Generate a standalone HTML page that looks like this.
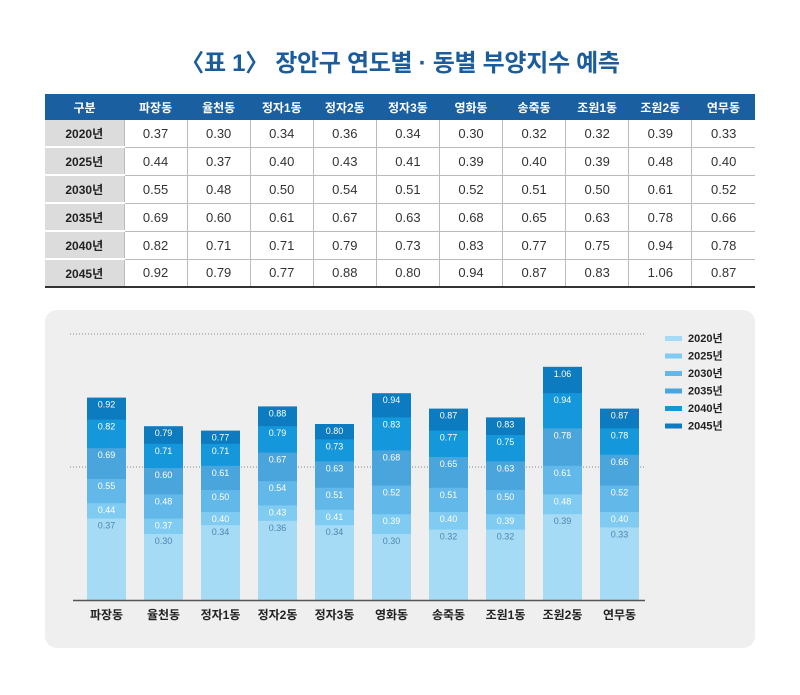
<!DOCTYPE html>
<html><head><meta charset="utf-8">
<style>
body{margin:0;background:#fff;width:800px;height:695px;overflow:hidden;font-family:"Liberation Sans","Noto Sans CJK KR",sans-serif;}
h1{position:absolute;left:0;top:43px;width:800px;text-align:center;margin:0;font-size:24px;font-weight:bold;color:#1b5c9c;letter-spacing:-0.3px;font-family:"Liberation Sans","Noto Sans CJK KR",sans-serif;}
table{position:absolute;left:45px;top:94px;width:710px;border-collapse:collapse;font-size:12px;table-layout:fixed;}
th{background:#1a5fa0;color:#fff;height:26px;font-weight:bold;font-size:12px;padding:0;}
td{height:26px;text-align:center;color:#333;border-right:1px solid #bbb;border-bottom:1px solid #bbb;padding:0;font-family:"Liberation Sans Narrow","Liberation Sans","Noto Sans CJK KR",sans-serif;font-size:13px;}
td:last-child{border-right:none;}
td.y{background:#dcdcdc;font-weight:bold;color:#222;font-family:"Liberation Sans","Noto Sans CJK KR",sans-serif;font-size:12px;border-bottom:2px solid #fff;}
tr:last-child td{border-bottom:2px solid #333;}
.panel{position:absolute;left:45px;top:310px;width:710px;height:338px;background:#efefef;border-radius:12px;}
svg{position:absolute;left:0;top:0;}
</style></head><body>
<h1>〈표 1〉 장안구 연도별 · 동별 부양지수 예측</h1>
<table>
<colgroup><col style="width:79px"><col span="10" style="width:63.1px"></colgroup>
<tr><th>구분</th><th>파장동</th><th>율천동</th><th>정자1동</th><th>정자2동</th><th>정자3동</th><th>영화동</th><th>송죽동</th><th>조원1동</th><th>조원2동</th><th>연무동</th></tr>
<tr><td class="y">2020년</td><td>0.37</td><td>0.30</td><td>0.34</td><td>0.36</td><td>0.34</td><td>0.30</td><td>0.32</td><td>0.32</td><td>0.39</td><td>0.33</td></tr>
<tr><td class="y">2025년</td><td>0.44</td><td>0.37</td><td>0.40</td><td>0.43</td><td>0.41</td><td>0.39</td><td>0.40</td><td>0.39</td><td>0.48</td><td>0.40</td></tr>
<tr><td class="y">2030년</td><td>0.55</td><td>0.48</td><td>0.50</td><td>0.54</td><td>0.51</td><td>0.52</td><td>0.51</td><td>0.50</td><td>0.61</td><td>0.52</td></tr>
<tr><td class="y">2035년</td><td>0.69</td><td>0.60</td><td>0.61</td><td>0.67</td><td>0.63</td><td>0.68</td><td>0.65</td><td>0.63</td><td>0.78</td><td>0.66</td></tr>
<tr><td class="y">2040년</td><td>0.82</td><td>0.71</td><td>0.71</td><td>0.79</td><td>0.73</td><td>0.83</td><td>0.77</td><td>0.75</td><td>0.94</td><td>0.78</td></tr>
<tr><td class="y">2045년</td><td>0.92</td><td>0.79</td><td>0.77</td><td>0.88</td><td>0.80</td><td>0.94</td><td>0.87</td><td>0.83</td><td>1.06</td><td>0.87</td></tr>
</table>
<div class="panel"></div>
<svg width="800" height="695" font-family="Liberation Sans Narrow, Liberation Sans, sans-serif">
<line x1="70" y1="334" x2="645" y2="334" stroke="#888" stroke-dasharray="1,2"/>
<line x1="70" y1="467" x2="645" y2="467" stroke="#888" stroke-dasharray="1,2"/>
<g font-size="9" text-anchor="middle" fill="#fff">
<g transform="translate(87,0)">
<rect y="397.6" width="39" height="202.4" fill="#0d7bc0"/><rect y="419.6" width="39" height="180.4" fill="#1597db"/><rect y="448.2" width="39" height="151.8" fill="#4aa5dc"/><rect y="479" width="39" height="121" fill="#63b8ea"/><rect y="503.2" width="39" height="96.8" fill="#80cbf1"/><rect y="518.6" width="39" height="81.4" fill="#a6dbf5"/>
<text x="19.5" y="407.6">0.92</text><text x="19.5" y="429.6">0.82</text><text x="19.5" y="458.2">0.69</text><text x="19.5" y="489">0.55</text><text x="19.5" y="513.2">0.44</text><text x="19.5" y="528.6" fill="#4d86b0">0.37</text></g>
<g transform="translate(144,0)">
<rect y="426.2" width="39" height="173.8" fill="#0d7bc0"/><rect y="443.8" width="39" height="156.2" fill="#1597db"/><rect y="468" width="39" height="132" fill="#4aa5dc"/><rect y="494.4" width="39" height="105.6" fill="#63b8ea"/><rect y="518.6" width="39" height="81.4" fill="#80cbf1"/><rect y="534" width="39" height="66" fill="#a6dbf5"/>
<text x="19.5" y="436.2">0.79</text><text x="19.5" y="453.8">0.71</text><text x="19.5" y="478">0.60</text><text x="19.5" y="504.4">0.48</text><text x="19.5" y="528.6">0.37</text><text x="19.5" y="544" fill="#4d86b0">0.30</text></g>
<g transform="translate(201,0)">
<rect y="430.6" width="39" height="169.4" fill="#0d7bc0"/><rect y="443.8" width="39" height="156.2" fill="#1597db"/><rect y="465.8" width="39" height="134.2" fill="#4aa5dc"/><rect y="490" width="39" height="110" fill="#63b8ea"/><rect y="512" width="39" height="88" fill="#80cbf1"/><rect y="525.2" width="39" height="74.8" fill="#a6dbf5"/>
<text x="19.5" y="440.6">0.77</text><text x="19.5" y="453.8">0.71</text><text x="19.5" y="475.8">0.61</text><text x="19.5" y="500">0.50</text><text x="19.5" y="522">0.40</text><text x="19.5" y="535.2" fill="#4d86b0">0.34</text></g>
<g transform="translate(258,0)">
<rect y="406.4" width="39" height="193.6" fill="#0d7bc0"/><rect y="426.2" width="39" height="173.8" fill="#1597db"/><rect y="452.6" width="39" height="147.4" fill="#4aa5dc"/><rect y="481.2" width="39" height="118.8" fill="#63b8ea"/><rect y="505.4" width="39" height="94.6" fill="#80cbf1"/><rect y="520.8" width="39" height="79.2" fill="#a6dbf5"/>
<text x="19.5" y="416.4">0.88</text><text x="19.5" y="436.2">0.79</text><text x="19.5" y="462.6">0.67</text><text x="19.5" y="491.2">0.54</text><text x="19.5" y="515.4">0.43</text><text x="19.5" y="530.8" fill="#4d86b0">0.36</text></g>
<g transform="translate(315,0)">
<rect y="424" width="39" height="176" fill="#0d7bc0"/><rect y="439.4" width="39" height="160.6" fill="#1597db"/><rect y="461.4" width="39" height="138.6" fill="#4aa5dc"/><rect y="487.8" width="39" height="112.2" fill="#63b8ea"/><rect y="509.8" width="39" height="90.2" fill="#80cbf1"/><rect y="525.2" width="39" height="74.8" fill="#a6dbf5"/>
<text x="19.5" y="434">0.80</text><text x="19.5" y="449.4">0.73</text><text x="19.5" y="471.4">0.63</text><text x="19.5" y="497.8">0.51</text><text x="19.5" y="519.8">0.41</text><text x="19.5" y="535.2" fill="#4d86b0">0.34</text></g>
<g transform="translate(372,0)">
<rect y="393.2" width="39" height="206.8" fill="#0d7bc0"/><rect y="417.4" width="39" height="182.6" fill="#1597db"/><rect y="450.4" width="39" height="149.6" fill="#4aa5dc"/><rect y="485.6" width="39" height="114.4" fill="#63b8ea"/><rect y="514.2" width="39" height="85.8" fill="#80cbf1"/><rect y="534" width="39" height="66" fill="#a6dbf5"/>
<text x="19.5" y="403.2">0.94</text><text x="19.5" y="427.4">0.83</text><text x="19.5" y="460.4">0.68</text><text x="19.5" y="495.6">0.52</text><text x="19.5" y="524.2">0.39</text><text x="19.5" y="544" fill="#4d86b0">0.30</text></g>
<g transform="translate(429,0)">
<rect y="408.6" width="39" height="191.4" fill="#0d7bc0"/><rect y="430.6" width="39" height="169.4" fill="#1597db"/><rect y="457" width="39" height="143" fill="#4aa5dc"/><rect y="487.8" width="39" height="112.2" fill="#63b8ea"/><rect y="512" width="39" height="88" fill="#80cbf1"/><rect y="529.6" width="39" height="70.4" fill="#a6dbf5"/>
<text x="19.5" y="418.6">0.87</text><text x="19.5" y="440.6">0.77</text><text x="19.5" y="467">0.65</text><text x="19.5" y="497.8">0.51</text><text x="19.5" y="522">0.40</text><text x="19.5" y="539.6" fill="#4d86b0">0.32</text></g>
<g transform="translate(486,0)">
<rect y="417.4" width="39" height="182.6" fill="#0d7bc0"/><rect y="435" width="39" height="165" fill="#1597db"/><rect y="461.4" width="39" height="138.6" fill="#4aa5dc"/><rect y="490" width="39" height="110" fill="#63b8ea"/><rect y="514.2" width="39" height="85.8" fill="#80cbf1"/><rect y="529.6" width="39" height="70.4" fill="#a6dbf5"/>
<text x="19.5" y="427.4">0.83</text><text x="19.5" y="445">0.75</text><text x="19.5" y="471.4">0.63</text><text x="19.5" y="500">0.50</text><text x="19.5" y="524.2">0.39</text><text x="19.5" y="539.6" fill="#4d86b0">0.32</text></g>
<g transform="translate(543,0)">
<rect y="366.8" width="39" height="233.2" fill="#0d7bc0"/><rect y="393.2" width="39" height="206.8" fill="#1597db"/><rect y="428.4" width="39" height="171.6" fill="#4aa5dc"/><rect y="465.8" width="39" height="134.2" fill="#63b8ea"/><rect y="494.4" width="39" height="105.6" fill="#80cbf1"/><rect y="514.2" width="39" height="85.8" fill="#a6dbf5"/>
<text x="19.5" y="376.8">1.06</text><text x="19.5" y="403.2">0.94</text><text x="19.5" y="438.4">0.78</text><text x="19.5" y="475.8">0.61</text><text x="19.5" y="504.4">0.48</text><text x="19.5" y="524.2" fill="#4d86b0">0.39</text></g>
<g transform="translate(600,0)">
<rect y="408.6" width="39" height="191.4" fill="#0d7bc0"/><rect y="428.4" width="39" height="171.6" fill="#1597db"/><rect y="454.8" width="39" height="145.2" fill="#4aa5dc"/><rect y="485.6" width="39" height="114.4" fill="#63b8ea"/><rect y="512" width="39" height="88" fill="#80cbf1"/><rect y="527.4" width="39" height="72.6" fill="#a6dbf5"/>
<text x="19.5" y="418.6">0.87</text><text x="19.5" y="438.4">0.78</text><text x="19.5" y="464.8">0.66</text><text x="19.5" y="495.6">0.52</text><text x="19.5" y="522">0.40</text><text x="19.5" y="537.4" fill="#4d86b0">0.33</text></g>
</g>
<line x1="73" y1="600.5" x2="645" y2="600.5" stroke="#555" stroke-width="1.5"/>
<g font-family="Liberation Sans, Noto Sans CJK KR, sans-serif" font-size="12" font-weight="bold" fill="#222" text-anchor="middle">
<text x="106.5" y="619">파장동</text><text x="163.5" y="619">율천동</text><text x="220.5" y="619">정자1동</text><text x="277.5" y="619">정자2동</text><text x="334.5" y="619">정자3동</text><text x="391.5" y="619">영화동</text><text x="448.5" y="619">송죽동</text><text x="505.5" y="619">조원1동</text><text x="562.5" y="619">조원2동</text><text x="619.5" y="619">연무동</text>
</g>
<g font-family="Liberation Sans, Noto Sans CJK KR, sans-serif" font-size="11" font-weight="bold" fill="#222">
<rect x="665" y="336" width="17" height="5" fill="#a6dbf5"/><text x="688" y="342">2020년</text>
<rect x="665" y="353.5" width="17" height="5" fill="#80cbf1"/><text x="688" y="359.5">2025년</text>
<rect x="665" y="371" width="17" height="5" fill="#63b8ea"/><text x="688" y="377">2030년</text>
<rect x="665" y="388.5" width="17" height="5" fill="#4aa5dc"/><text x="688" y="394.5">2035년</text>
<rect x="665" y="406" width="17" height="5" fill="#1597db"/><text x="688" y="412">2040년</text>
<rect x="665" y="423.5" width="17" height="5" fill="#0d7bc0"/><text x="688" y="429.5">2045년</text>
</g>
</svg>
</body></html>
